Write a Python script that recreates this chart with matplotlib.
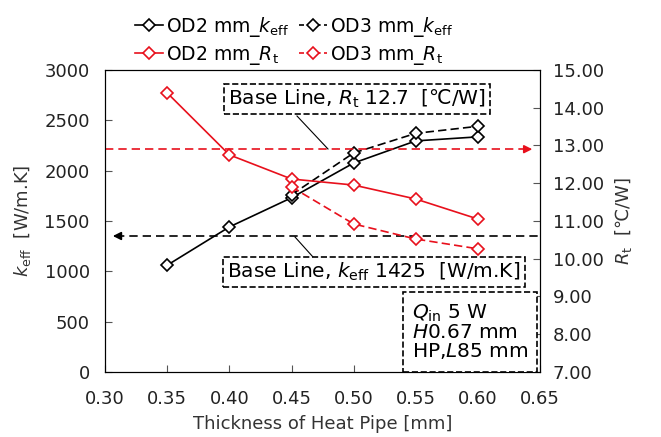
import matplotlib

matplotlib.use("Agg", force=True)
import matplotlib.pyplot as plt
from matplotlib.lines import Line2D
from matplotlib.patches import Rectangle

plt.rcParams["font.family"] = ["DejaVu Sans", "Noto Sans CJK JP"]
plt.rcParams["mathtext.fontset"] = "dejavusans"

# thickness of heat pipe [mm]
thickness_od2 = [0.35, 0.40, 0.45, 0.50, 0.55, 0.60]
thickness_od3 = [0.45, 0.50, 0.55, 0.60]

keff_od2 = [1060, 1440, 1730, 2075, 2295, 2335]
keff_od3 = [1760, 2175, 2370, 2440]
rt_od2 = [14.39, 12.75, 12.11, 11.95, 11.58, 11.05]
rt_od3 = [11.90, 10.92, 10.52, 10.26]

# drawn levels of the base lines (as seen in the picture)
base_rt_level = 12.9
base_keff_level = 1350

x_ticks = [0.30, 0.35, 0.40, 0.45, 0.50, 0.55, 0.60, 0.65]
keff_ticks = [0, 500, 1000, 1500, 2000, 2500, 3000]
rt_ticks = [7, 8, 9, 10, 11, 12, 13, 14, 15]

fs = 13
fs_note = 14.5
red = "#e8101c"
W, H = 661, 437
fig = plt.figure(figsize=(6.61, 4.37), dpi=100)
ax = fig.add_axes([0.159, 0.149, 0.658, 0.691])
ax2 = ax.twinx()

mk = dict(marker="D", markersize=6, markerfacecolor="white", markeredgewidth=1.2)
ax.plot(thickness_od2, keff_od2, color="black", lw=1.2, zorder=3, **mk)
ax.plot(thickness_od3, keff_od3, color="black", lw=1.2, ls=(0, (5, 2.5)), zorder=3, **mk)
ax2.plot(thickness_od2, rt_od2, color=red, lw=1.2, zorder=3, **mk)
ax2.plot(thickness_od3, rt_od3, color=red, lw=1.2, ls=(0, (5, 2.5)), zorder=3, **mk)

# base lines with arrow heads
ax2.plot([0.30, 0.641], [base_rt_level] * 2, color=red, lw=1.2, ls=(0, (5, 3)))
ax2.annotate("", xy=(0.646, base_rt_level), xytext=(0.638, base_rt_level),
             arrowprops=dict(arrowstyle="-|>", color=red, lw=1.2, mutation_scale=12))
ax.plot([0.309, 0.65], [base_keff_level] * 2, color="black", lw=1.2, ls=(0, (5, 3)))
ax.annotate("", xy=(0.304, base_keff_level), xytext=(0.312, base_keff_level),
            arrowprops=dict(arrowstyle="-|>", color="black", lw=1.2, mutation_scale=12))

ax.set_xlim(0.30, 0.65)
ax.set_ylim(0, 3000)
ax2.set_ylim(7, 15)
ax.set_xticks(x_ticks, labels=[f"{v:.2f}" for v in x_ticks])
ax.set_yticks(keff_ticks, labels=[str(v) for v in keff_ticks])
ax2.set_yticks(rt_ticks, labels=[f"{v:.2f}" for v in rt_ticks])
for a in (ax, ax2):
    a.tick_params(direction="in", labelsize=fs, length=5, color="#555555", labelcolor="#222222")
    for s in a.spines.values():
        s.set_color("black")
ax.tick_params(axis="x", pad=13)
ax.tick_params(axis="y", pad=11)
ax2.tick_params(axis="y", pad=9)

ax.set_xlabel("Thickness of Heat Pipe [mm]", fontsize=fs, color="#333333", labelpad=5)
ax.set_ylabel(r"$k_\mathrm{eff}$  [W/m.K]", fontsize=fs, color="#333333", labelpad=8)
ax2.set_ylabel(r"$R_\mathrm{t}$  [℃/W]", fontsize=fs, color="#333333", labelpad=7)

box = dict(boxstyle="square,pad=0.2", facecolor="white", edgecolor="black", ls="--", lw=1.2)
fig.text(357 / W, 1 - 99 / H, r"Base Line, $R_\mathrm{t}$ 12.7  [℃/W]",
         ha="center", va="center", fontsize=fs_note, bbox=box)
fig.add_artist(Line2D([297 / W, 328 / W], [1 - 116 / H, 1 - 149 / H], color="black", lw=0.8))
fig.text(374 / W, 1 - 272 / H, r"Base Line, $k_\mathrm{eff}$ 1425  [W/m.K]",
         ha="center", va="center", fontsize=fs_note, bbox=box)
fig.add_artist(Line2D([295 / W, 313 / W], [1 - 237 / H, 1 - 257 / H], color="black", lw=0.8))

# condition box in the lower right corner
fig.add_artist(Rectangle((403 / W, 1 - 372 / H), 134 / W, 80 / H, transform=fig.transFigure,
                         facecolor="white", edgecolor="black", ls="--", lw=1.2, zorder=4))
fig.text(412 / W, 1 - 332 / H, "$Q_\\mathrm{in}$ 5 W\n$H$0.67 mm\nHP,$L$85 mm",
         ha="left", va="center", fontsize=fs_note, linespacing=0.95, zorder=5)

handles = [
    Line2D([], [], color="black", lw=1.2, **mk),
    Line2D([], [], color=red, lw=1.2, **mk),
    Line2D([], [], color="black", lw=1.2, ls=(0, (3, 2)), **mk),
    Line2D([], [], color=red, lw=1.2, ls=(0, (3, 2)), **mk),
]
labels = [r"OD2 mm_$k_\mathrm{eff}$", r"OD2 mm_$R_\mathrm{t}$",
          r"OD3 mm_$k_\mathrm{eff}$", r"OD3 mm_$R_\mathrm{t}$"]
fig.legend(handles, labels, ncol=2, loc="upper left", bbox_to_anchor=(120 / W, 1.0),
           frameon=False, fontsize=13.5, handlelength=1.5, handletextpad=0.15,
           columnspacing=0.5, labelspacing=0.25, borderpad=0.3)

fig.savefig("out.png", dpi=100)
